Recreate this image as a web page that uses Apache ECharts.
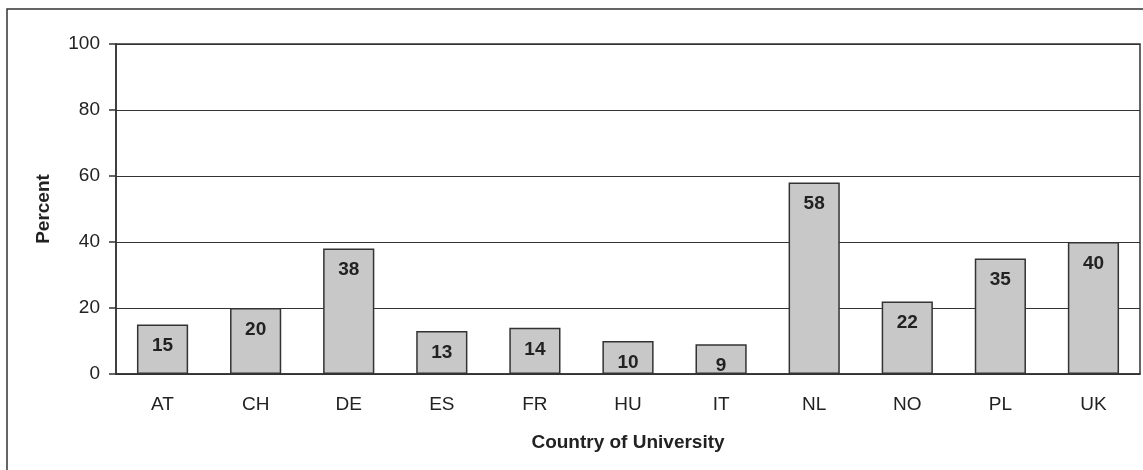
<!DOCTYPE html>
<html>
<head>
<meta charset="utf-8">
<script src="https://cdn.jsdelivr.net/npm/echarts@6/dist/echarts.min.js"></script>
<style>
  html, body { margin: 0; padding: 0; background: #fff; }
  #chart { width: 1143px; height: 470px; }
</style>
</head>
<body>
<div id="chart"></div>
<script>
// data
const countries = ['AT', 'CH', 'DE', 'ES', 'FR', 'HU', 'IT', 'NL', 'NO', 'PL', 'UK'];
const percent = [15, 20, 38, 13, 14, 10, 9, 58, 22, 35, 40];
const yTicks = [0, 20, 40, 60, 80, 100];

const font = 'Liberation Sans, Arial, sans-serif';
const ink = '#222';

const chart = echarts.init(document.getElementById('chart'));
chart.setOption({
  animation: false,
  textStyle: { fontFamily: font },
  graphic: [{
    type: 'rect',
    shape: { x: 7, y: 9, width: 1200, height: 600 },
    style: { fill: 'none', stroke: '#333', lineWidth: 1.5 },
    silent: true
  }],
  grid: {
    left: 116, right: 3, top: 44, bottom: 96,
    show: true, borderColor: '#333', borderWidth: 1.5
  },
  xAxis: {
    type: 'category',
    data: countries,
    name: 'Country of University',
    nameLocation: 'middle',
    nameGap: 59,
    nameTextStyle: { fontSize: 19, fontWeight: 'bold', color: ink, fontFamily: font },
    axisLine: { lineStyle: { color: '#333', width: 1.5 } },
    axisTick: { length: 7, lineStyle: { color: '#333', width: 1.5 } },
    axisLabel: { fontSize: 19, color: ink, margin: 21, fontFamily: font }
  },
  yAxis: {
    type: 'value',
    min: yTicks[0],
    max: yTicks[yTicks.length - 1],
    interval: 20,
    name: 'Percent',
    nameLocation: 'middle',
    nameGap: 63,
    nameTextStyle: { fontSize: 19, fontWeight: 'bold', color: ink, fontFamily: font },
    axisLine: { show: true, lineStyle: { color: '#333', width: 1.5 } },
    axisTick: { show: true, length: 7, lineStyle: { color: '#333', width: 1.5 } },
    axisLabel: { fontSize: 19, color: ink, margin: 16, fontFamily: font },
    splitLine: { lineStyle: { color: '#333', width: 1 } }
  },
  series: [{
    type: 'bar',
    data: percent,
    barWidth: '55%',
    itemStyle: { color: '#c8c8c8', borderColor: '#333', borderWidth: 1.5 },
    label: {
      show: true,
      position: 'insideTop',
      distance: 12,
      fontSize: 19,
      fontWeight: 'bold',
      color: ink,
      fontFamily: font
    }
  }]
});
</script>
</body>
</html>
